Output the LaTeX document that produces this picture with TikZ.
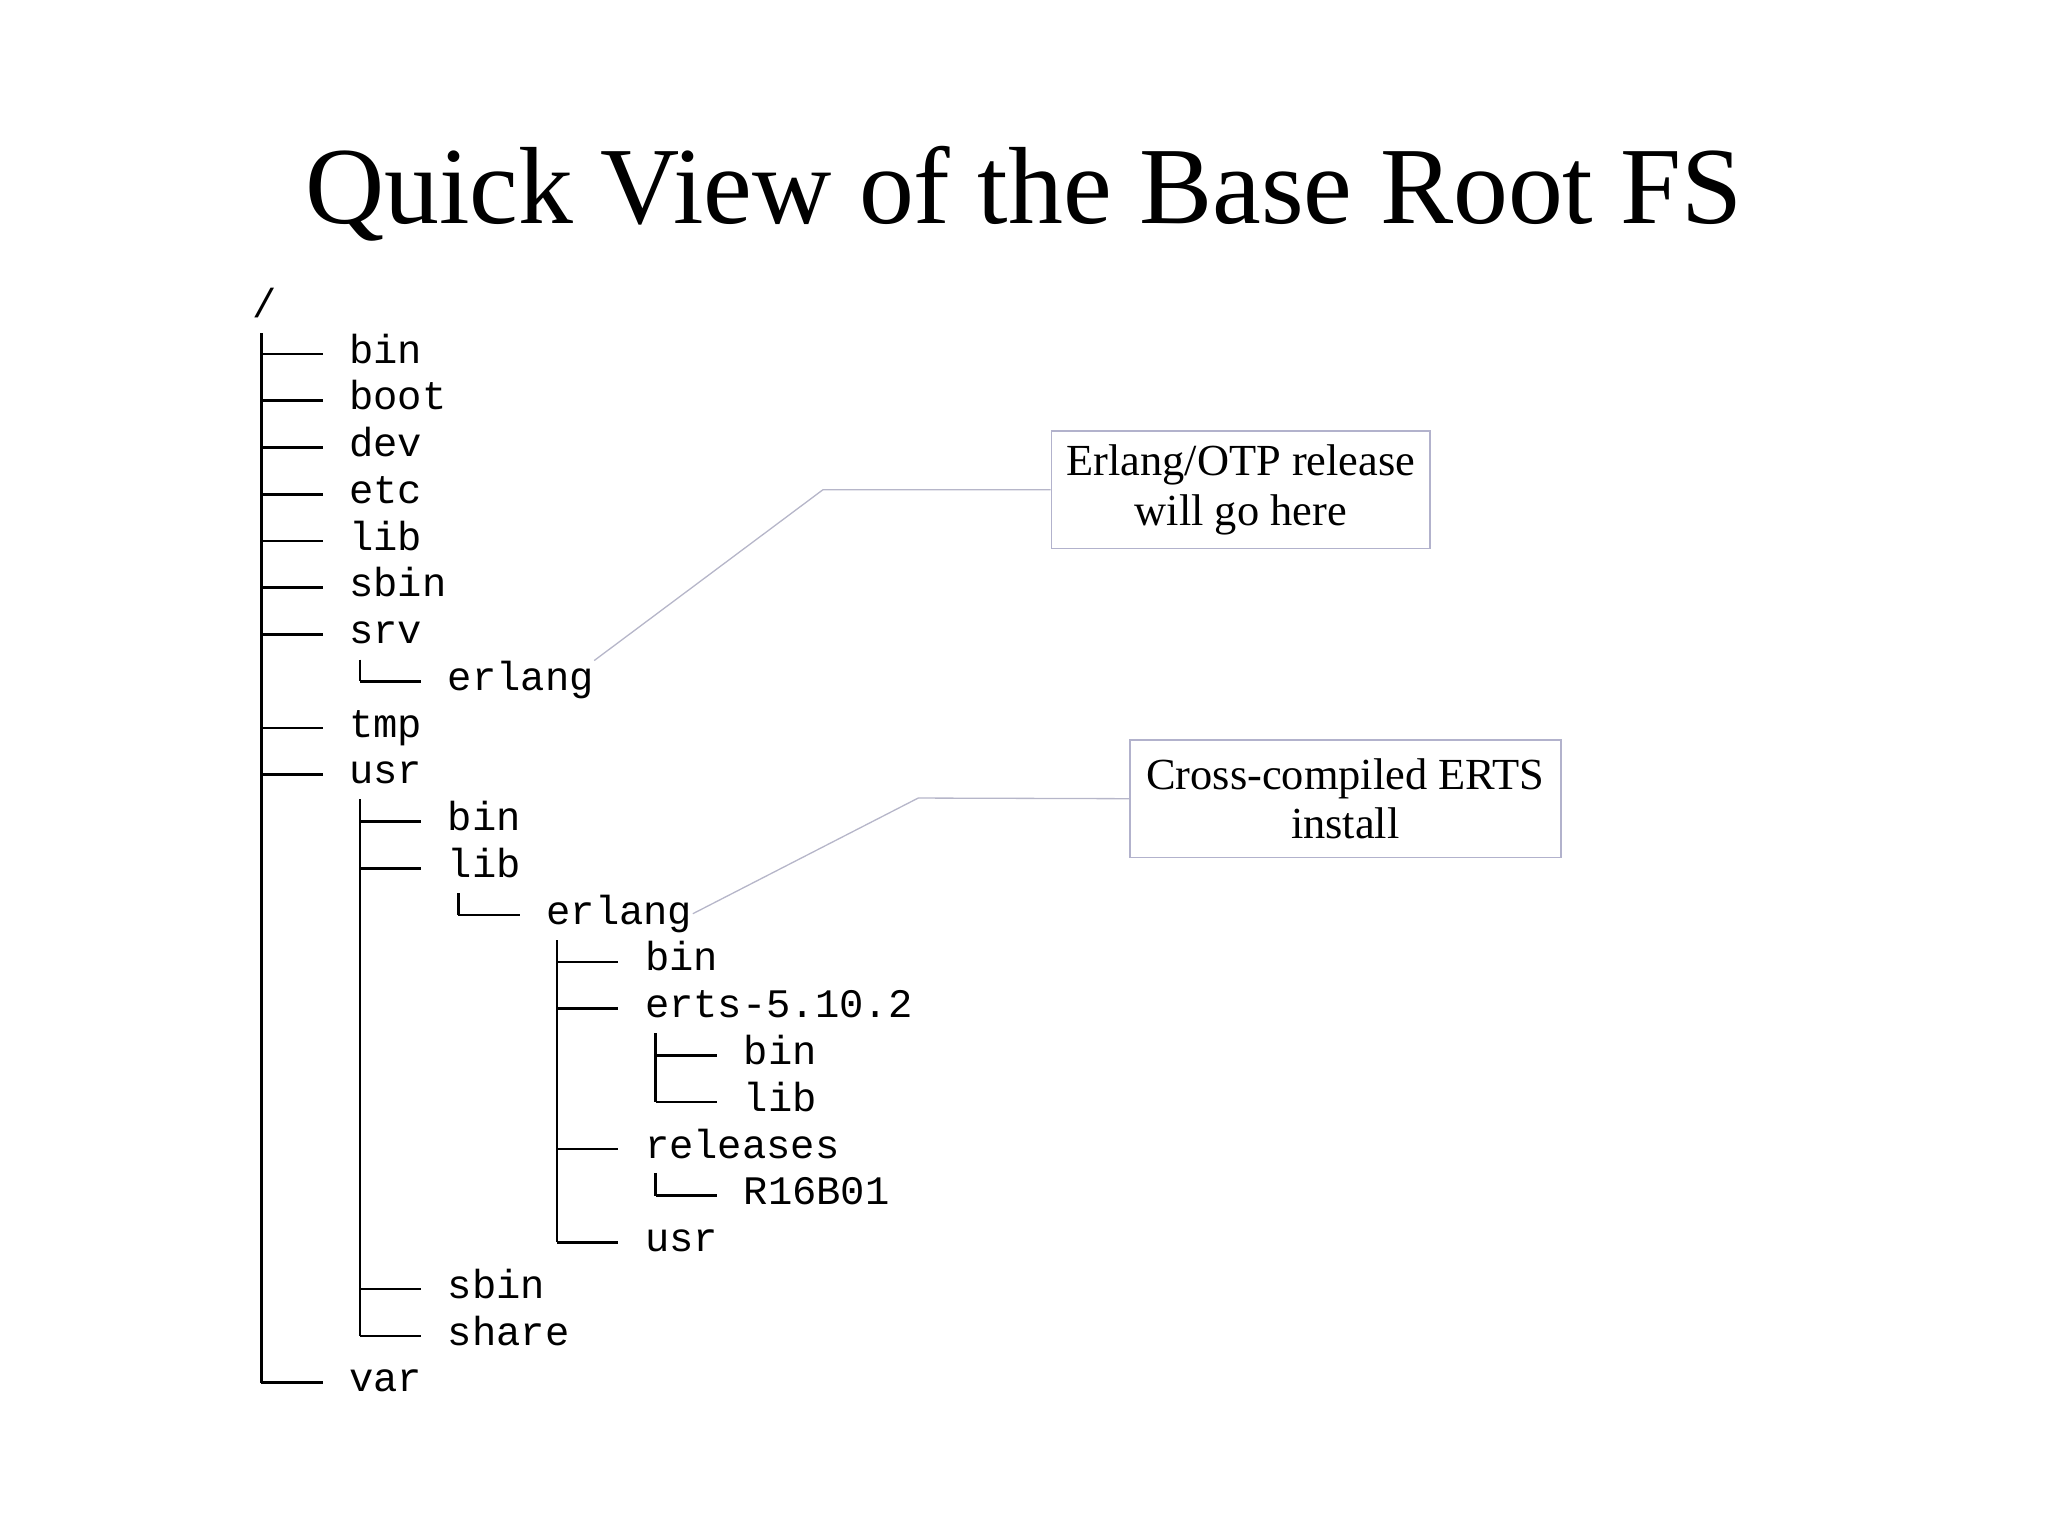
\documentclass[tikz,border=0pt]{standalone}
\usepackage{fontspec}
\setmainfont{Liberation Serif}
\newfontfamily\monof{Liberation Mono}
\begin{document}
\begin{tikzpicture}[x=0.5pt,y=-0.5pt,
  entry/.style={anchor=base west,inner sep=0,font=\monof\fontsize{15.5}{18}\selectfont},
  tline/.style={line width=1pt},
  callout/.style={draw=blue!20!gray!50,line width=0.6pt,font=\fontsize{17}{19}\selectfont,align=center,minimum width=145pt,minimum height=45pt},
  leader/.style={draw=blue!15!gray!50,line width=0.5pt}]
\useasboundingbox (0,0) rectangle (1568,1176);
\node[font=\fontsize{42}{48}\selectfont] (title) at (784,148) {Quick View of the Base Root FS};
\node[entry] (root) at (193,243) {/};
\foreach \i/\l/\t/\last in {0/1/bin/0,1/1/boot/0,2/1/dev/0,3/1/etc/0,4/1/lib/0,5/1/sbin/0,6/1/srv/0,7/2/erlang/1,8/1/tmp/0,9/1/usr/0,10/2/bin/0,11/2/lib/0,12/3/erlang/1,13/4/bin/0,14/4/erts-5.10.2/0,15/5/bin/0,16/5/lib/1,17/4/releases/0,18/5/R16B01/1,19/4/usr/1,20/2/sbin/0,21/2/share/1,22/1/var/1}{
  \pgfmathsetmacro{\y}{271+35.8*\i}
  \pgfmathsetmacro{\xt}{267+75.5*(\l-1)}
  \pgfmathsetmacro{\xv}{200+75.5*(\l-1)}
  \node[entry] (n\i) at (\xt,\y+7) {\t};
  \draw[tline] (\xv,\y) -- (\xv+47,\y);
}
\draw[tline] (200,255) -- (200,1058.6);
\draw[tline] (275.5,505) -- (275.5,521.6);
\draw[tline] (275.5,612) -- (275.5,1022.8);
\draw[tline] (351,684) -- (351,700.6);
\draw[tline] (426.5,720) -- (426.5,951.2);
\draw[tline] (502,791) -- (502,843.8);
\draw[tline] (502,898) -- (502,915.4);
\node[callout] (c1) at (950,375) {Erlang/OTP release\\will go here};
\node[callout,minimum width=165pt] (c2) at (1030,611.5) {Cross-compiled ERTS\\install};
\draw[leader] (c1.west) -- (630,375) -- (n7.north east);
\draw[leader] (c2.west) -- (703,611) -- (n12.east);
\end{tikzpicture}
\end{document}
